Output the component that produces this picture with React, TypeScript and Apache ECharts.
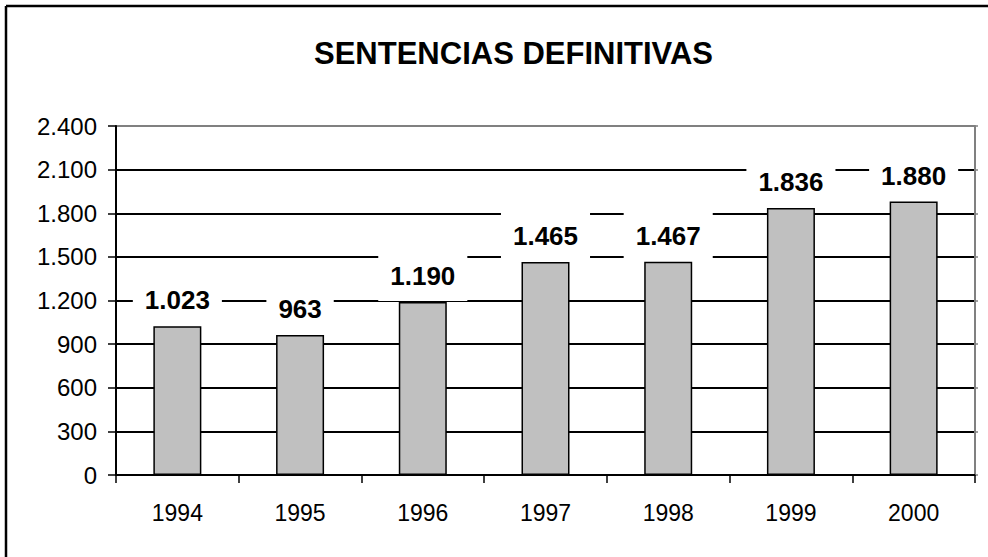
import React, { useEffect, useRef } from "react";
import * as echarts from "echarts";

const title = "SENTENCIAS DEFINITIVAS";
const years = ["1994", "1995", "1996", "1997", "1998", "1999", "2000"];
const sentencias = [1023, 963, 1190, 1465, 1467, 1836, 1880];
const yMin = 0;
const yMax = 2400;
const yStep = 300;

const FONT = 'Arial, "Liberation Sans", sans-serif';

const fmt = (n: number) =>
  String(n).replace(/\B(?=(\d{3})+(?!\d))/g, ".");

export default function App() {
  const ref = useRef<HTMLDivElement>(null);

  useEffect(() => {
    if (!ref.current) return;
    const chart = echarts.init(ref.current, undefined, { renderer: "svg" });
    const nLines = (yMax - yMin) / yStep + 1;
    const splitColors = Array.from({ length: nLines }, (_, i) =>
      i === 0 || i === nLines - 1 ? "#808080" : "#000000"
    );
    chart.setOption({
      animation: false,
      backgroundColor: "#ffffff",
      textStyle: { fontFamily: FONT },
      title: {
        text: title,
        left: 314,
        top: 38,
        padding: 0,
        textStyle: {
          fontFamily: FONT,
          fontSize: 31,
          fontWeight: "bold",
          color: "#000",
        },
      },
      graphic: [
        {
          type: "line",
          shape: { x1: 6, y1: 6, x2: 1000, y2: 6 },
          style: { stroke: "#000", lineWidth: 2.5 },
          silent: true,
          z: 100,
        },
        {
          type: "line",
          shape: { x1: 6, y1: 6, x2: 6, y2: 600 },
          style: { stroke: "#000", lineWidth: 2.5 },
          silent: true,
          z: 100,
        },
      ],
      grid: { left: 116, right: 13, top: 126, bottom: 82, containLabel: false },
      xAxis: {
        type: "category",
        data: years,
        boundaryGap: true,
        axisLine: { show: true, lineStyle: { color: "#000", width: 2 } },
        axisTick: {
          show: true,
          alignWithLabel: false,
          length: 8,
          lineStyle: { color: "#000", width: 1.5 },
        },
        axisLabel: {
          margin: 26,
          fontSize: 23,
          color: "#000",
          fontFamily: FONT,
        },
        splitLine: { show: false },
      },
      yAxis: [
        {
          type: "value",
          min: yMin,
          max: yMax,
          interval: yStep,
          position: "left",
          axisLine: { show: true, lineStyle: { color: "#000", width: 2 } },
          axisTick: {
            show: true,
            length: 8,
            lineStyle: { color: "#000", width: 1.5 },
          },
          axisLabel: {
            margin: 19,
            fontSize: 24,
            color: "#000",
            fontFamily: FONT,
            formatter: (v: number) => fmt(v),
          },
          splitLine: {
            show: true,
            lineStyle: { color: splitColors, width: 2 },
          },
        },
        {
          type: "value",
          min: yMin,
          max: yMax,
          interval: yStep,
          position: "right",
          axisLine: { show: true, lineStyle: { color: "#808080", width: 2 } },
          axisTick: {
            show: true,
            length: 3,
            lineStyle: { color: "#808080", width: 1.5 },
          },
          axisLabel: { show: false },
          splitLine: { show: false },
        },
      ],
      series: [
        {
          type: "bar",
          data: sentencias,
          yAxisIndex: 0,
          barWidth: 48,
          itemStyle: {
            color: "#C0C0C0",
            borderColor: "#000",
            borderWidth: 1.5,
          },
          label: {
            show: true,
            position: "top",
            distance: 1,
            fontSize: 26,
            fontWeight: "bold",
            fontFamily: FONT,
            color: "#000",
            lineHeight: 28,
            backgroundColor: "#ffffff",
            padding: [11, 12],
            formatter: (p: any) => fmt(p.value),
          },
        },
      ],
    });
    return () => chart.dispose();
  }, []);

  return (
    <div
      ref={ref}
      style={{
        position: "fixed",
        left: 0,
        top: 0,
        width: 988,
        height: 557,
        background: "#fff",
      }}
    />
  );
}
